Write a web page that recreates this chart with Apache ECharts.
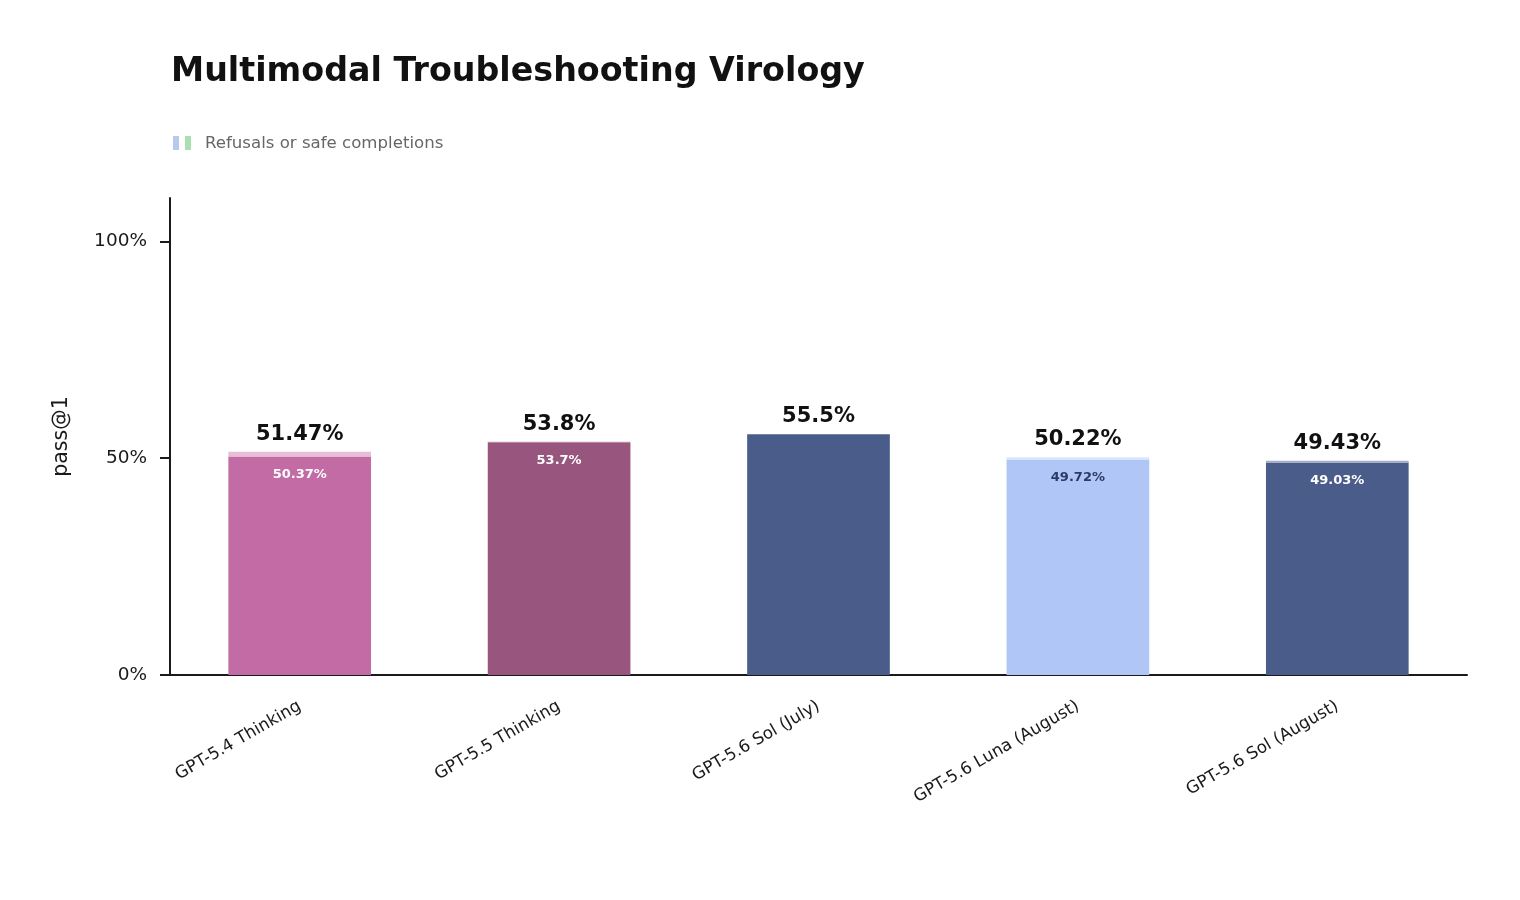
<!DOCTYPE html>
<html>
<head>
<meta charset="utf-8">
<title>Multimodal Troubleshooting Virology</title>
<script src="https://cdn.jsdelivr.net/npm/echarts@6/dist/echarts.min.js"></script>
<style>
  html, body { margin: 0; padding: 0; background: #fff; }
  #main { width: 1520px; height: 900px; }
</style>
</head>
<body>
<div id="main"></div>
<script>
// data
var categories = ['GPT-5.4 Thinking', 'GPT-5.5 Thinking', 'GPT-5.6 Sol (July)', 'GPT-5.6 Luna (August)', 'GPT-5.6 Sol (August)'];
var passValues = [50.37, 53.7, 55.5, 49.72, 49.03];
var totalValues = [51.47, 53.8, 55.5, 50.22, 49.43];
var yTicks = [0, 50, 100];

// colours per bar (base and lighter top part)
var baseColors = ['#c36ba4', '#98557d', '#4a5d8a', '#b0c6f6', '#4a5d8a'];
var topColors = ['#e8bdd8', '#c9a0b8', '#a4aec6', '#dbe5fb', '#a4aec6'];
var innerLabelColors = ['#ffffff', '#ffffff', '#ffffff', '#2b3b63', '#ffffff'];

var myChart = echarts.init(document.getElementById('main'));

var refusalValues = [];
for (var i = 0; i < totalValues.length; i++) {
  refusalValues.push(+(totalValues[i] - passValues[i]).toFixed(2));
}

var fontFamily = 'DejaVu Sans';

var option = {
  animation: false,
  textStyle: { fontFamily: fontFamily },
  title: {
    text: 'Multimodal Troubleshooting Virology',
    left: 166,
    top: 51,
    textStyle: { fontSize: 33.3, fontWeight: 'bold', color: '#111', fontFamily: fontFamily }
  },
  graphic: [
    { type: 'rect', left: 173, top: 136, shape: { width: 6, height: 14 }, style: { fill: '#b9c8ee' } },
    { type: 'rect', left: 185, top: 136, shape: { width: 6, height: 14 }, style: { fill: '#a9dfb1' } },
    {
      type: 'text', left: 205, top: 135,
      style: { text: 'Refusals or safe completions', fontSize: 16.6, fill: '#666', fontFamily: fontFamily }
    }
  ],
  grid: { left: 170, right: 53, top: 198, bottom: 225 },
  xAxis: {
    type: 'category',
    data: categories,
    axisLine: { lineStyle: { color: '#1a1a1a', width: 2 } },
    axisTick: { show: false },
    axisLabel: {
      rotate: 30,
      margin: 30,
      fontSize: 16.8,
      color: '#1a1a1a',
      fontFamily: fontFamily
    }
  },
  yAxis: {
    type: 'value',
    min: 0,
    max: 110,
    interval: 50,
    name: 'pass@1',
    nameLocation: 'middle',
    nameGap: 98,
    nameTextStyle: { fontSize: 20.5, color: '#1a1a1a', fontFamily: fontFamily },
    splitLine: { show: false },
    axisLine: { show: true, lineStyle: { color: '#1a1a1a', width: 2 } },
    axisTick: { show: true, length: 10, customValues: yTicks, lineStyle: { color: '#1a1a1a', width: 2 } },
    axisLabel: {
      customValues: yTicks,
      margin: 23,
      fontSize: 18.5,
      color: '#1a1a1a',
      fontFamily: fontFamily,
      formatter: function (v) { return v + '%'; }
    }
  },
  series: [
    {
      name: 'pass',
      type: 'bar',
      stack: 'total',
      barWidth: '55%',
      data: passValues.map(function (v, i) {
        return {
          value: v,
          itemStyle: { color: baseColors[i] },
          label: { color: innerLabelColors[i] }
        };
      }),
      label: {
        show: true,
        position: 'insideTop',
        distance: 12,
        fontSize: 13,
        fontWeight: 'bold',
        fontFamily: fontFamily,
        formatter: function (p) {
          return refusalValues[p.dataIndex] > 0 ? p.value + '%' : '';
        }
      }
    },
    {
      name: 'Refusals or safe completions',
      type: 'bar',
      stack: 'total',
      barWidth: '55%',
      data: refusalValues.map(function (v, i) {
        return { value: v, itemStyle: { color: topColors[i] } };
      }),
      label: {
        show: true,
        position: 'top',
        distance: 7,
        fontSize: 21,
        fontWeight: 'bold',
        color: '#111',
        fontFamily: fontFamily,
        formatter: function (p) { return totalValues[p.dataIndex] + '%'; }
      }
    }
  ]
};

option && myChart.setOption(option);
</script>
</body>
</html>
